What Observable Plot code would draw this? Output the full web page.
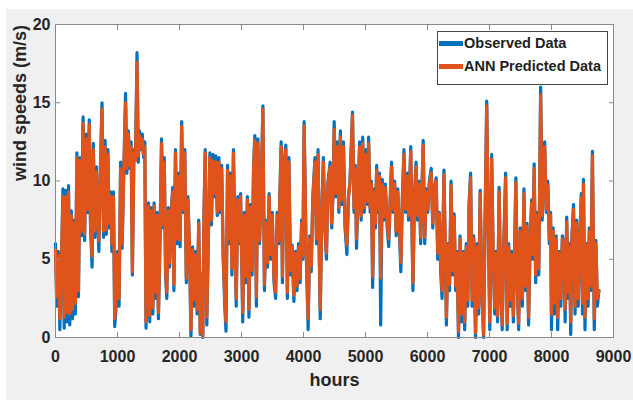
<!DOCTYPE html>
<html><head><meta charset="utf-8">
<script src="https://cdn.jsdelivr.net/npm/d3@7"></script>
<script src="https://cdn.jsdelivr.net/npm/@observablehq/plot@0.6"></script>
<style>
html,body{margin:0;padding:0;background:#fff;}
#wrap{position:relative;width:633px;height:400px;overflow:hidden;font-family:"Liberation Sans",Arial,sans-serif;}
#bg{position:absolute;left:6px;top:9px;right:0;bottom:0;background:#f0f0f0;}
#chart{position:absolute;left:0;top:0;}
#legend{position:absolute;left:437px;top:31px;width:171px;height:54px;background:#fff;border:1px solid #444;box-sizing:border-box;}
.row{position:absolute;left:1px;display:flex;align-items:center;font-weight:bold;font-size:14.5px;color:#222;white-space:nowrap;}
.sw{width:24px;height:5px;margin-right:1px;}
</style></head>
<body>
<div id="wrap"><div id="bg"></div><div id="chart"></div>
<div id="legend">
 <div class="row" style="top:3px"><span class="sw" style="background:#0072BD"></span><span>Observed Data</span></div>
 <div class="row" style="top:26px"><span class="sw" style="background:#E0531A"></span><span>ANN Predicted Data</span></div>
</div></div>
<script>
const xTicks = [0,1000,2000,3000,4000,5000,6000,7000,8000,9000];
const yTicks = [0,5,10,15,20];
const xLabel = "hours";
const yLabel = "wind speeds (m/s)";
const seriesNames = ["Observed Data","ANN Predicted Data"];

const hours = [
0,20,45,70,95,120,140,165,185,210,230,255,275,300,320,345,370,395,420,445,470,495,
520,545,565,590,610,635,660,680,700,725,750,775,800,820,845,865,890,910,935,955,975,
1000,1025,1050,1075,1100,1130,1150,1175,1200,1220,1240,1265,1290,1315,1335,1355,1375,1400,1420,1440,1460,
1480,1500,1520,1545,1570,1590,1615,1640,1660,1685,1710,1735,1755,1775,1795,1820,1840,1865,1890,1910,1935,1960,1985,
2010,2035,2060,2085,2110,2135,2160,2185,2210,2235,2260,2285,2310,2335,2355,2375,2395,2415,2440,2465,2490,
2515,2540,2560,2585,2610,2635,2655,2680,2705,2730,2750,2775,2800,2825,2845,2870,2890,2915,2940,2960,2985,
3020,3045,3070,3095,3120,3145,3170,3195,3215,3240,3265,3290,3315,3345,3370,3395,3420,3445,3470,3495,
3525,3550,3575,3600,3640,3660,3685,3715,3740,3765,3790,3815,3845,3870,3895,3920,3945,3970,3990,
4010,4040,4075,4100,4125,4150,4185,4210,4235,4255,4270,4295,4320,4345,4370,4395,4430,4455,
4480,4495,4520,4545,4570,4595,4620,4645,4670,4700,4725,4750,4790,4815,4835,4855,4880,4905,4930,4955,4980,
5005,5030,5050,5075,5095,5115,5140,5160,5180,5205,5225,5245,5270,5295,5320,5350,5375,5400,5420,5445,5470,5495,
5520,5545,5570,5595,5620,5645,5670,5695,5730,5765,5790,5815,5840,5865,5890,5930,5955,5980,
6005,6030,6060,6085,6110,6140,6165,6190,6215,6235,6265,6285,6305,6330,6355,6380,6405,6430,6455,6475,6500,
6525,6550,6575,6600,6625,6650,6670,6695,6720,6745,6775,6800,6825,6850,6875,6905,6930,6955,6980,7005,
7035,7060,7085,7105,7130,7155,7180,7205,7230,7260,7285,7310,7335,7360,7385,7425,7450,7470,7495,
7530,7555,7580,7605,7630,7655,7680,7700,7720,7745,7770,7795,7825,7850,7870,7890,7915,7940,7965,7985,
8000,8025,8050,8075,8100,8125,8150,8175,8200,8220,8245,8270,8290,8310,8330,8355,8380,8405,8430,8455,8480,
8500,8515,8540,8565,8590,8610,8635,8660,8690,8715,8740,8765];

const observed = [
6.0,2.0,5.5,0.5,4.5,9.5,0.6,9.4,1.0,9.7,0.8,8.1,1.2,7.5,1.5,11.8,2.6,11.5,6.5,14.1,6.2,13.0,
8.0,13.9,7.0,4.5,12.4,6.4,10.9,7.5,5.5,11.0,15.0,6.4,12.6,6.6,12.0,7.0,9.3,5.5,9.3,0.7,1.8,
5.5,2.0,11.2,5.7,10.5,15.6,10.5,13.2,10.8,12.5,4.0,12.0,11.5,18.2,11.2,13.2,12.0,13.0,11.5,12.5,0.6,
5.0,8.6,1.0,8.3,1.5,8.6,2.5,8.0,1.2,6.0,12.7,7.0,11.5,4.0,2.5,8.3,4.5,7.8,9.6,3.0,12.0,6.0,10.5,
5.8,13.8,8.0,12.0,3.5,9.0,5.8,0.1,5.8,2.0,5.5,1.5,7.5,0.2,4.0,0.0,8.0,12.0,0.8,6.0,11.8,
7.2,11.7,9.0,11.6,7.8,11.5,8.0,11.0,5.0,2.0,0.4,11.0,6.0,10.5,4.0,12.0,7.0,2.0,9.0,6.0,9.2,
1.0,8.0,3.5,9.0,1.3,8.5,4.0,11.0,12.9,2.0,12.7,6.0,9.0,14.8,3.0,7.5,4.5,9.2,5.0,8.0,
3.5,2.5,8.0,6.0,12.5,3.5,11.0,12.3,2.5,11.5,4.0,5.9,2.3,5.5,3.0,6.0,3.5,7.5,5.0,
13.8,6.0,0.5,6.5,4.2,9.0,11.5,6.0,12.0,5.0,1.2,8.0,11.5,7.0,5.0,10.0,11.2,7.0,
9.5,13.8,9.0,12.5,8.0,13.2,8.5,12.5,7.0,5.3,9.0,10.0,14.4,8.0,11.0,5.7,9.0,12.5,7.5,12.8,8.0,
12.0,8.5,12.8,8.0,10.0,3.2,9.5,7.0,11.0,8.0,10.5,0.8,10.1,7.5,9.8,7.0,5.8,9.0,11.2,8.0,10.0,6.5,
9.5,7.0,4.2,9.0,12.0,8.0,10.5,7.5,12.2,3.0,9.0,11.2,7.5,10.0,6.0,12.6,6.0,9.5,
8.0,10.0,10.8,7.0,9.5,10.2,5.0,8.0,4.0,2.5,10.7,6.0,0.8,6.0,3.0,10.0,4.0,7.9,3.0,5.5,0.0,
6.5,1.0,5.5,0.5,6.0,2.0,8.5,10.5,2.0,6.5,0.0,6.0,1.5,9.4,3.0,0.0,8.0,15.1,7.0,0.5,
11.7,5.0,1.5,5.5,1.0,9.6,3.0,0.5,6.0,10.5,0.5,6.0,2.0,5.5,1.0,10.2,3.0,0.5,7.0,
2.0,9.5,3.0,7.3,0.8,6.0,8.8,5.0,11.1,3.5,8.0,4.0,16.0,7.5,11.0,12.5,8.0,10.0,6.0,8.0,
0.5,7.0,1.5,6.5,0.5,5.5,2.0,6.5,6.0,1.0,7.7,2.5,6.0,0.2,6.5,8.5,1.5,7.5,2.0,6.0,9.2,
1.5,10.1,0.5,6.0,2.0,7.0,3.0,11.9,0.5,6.2,2.0,3.0];

const predicted = [
5.6,2.6,5.2,1.2,4.8,9.0,1.3,9.0,1.6,9.3,1.5,7.8,1.8,7.3,2.2,11.5,3.0,11.3,6.8,13.7,6.6,12.7,
8.2,13.6,7.3,5.2,12.0,6.8,10.6,7.7,6.2,10.8,14.6,6.8,12.2,6.9,11.7,7.3,9.0,6.0,9.0,1.2,2.3,
5.3,2.5,10.8,6.0,10.3,15.0,10.8,13.0,11.0,12.2,4.2,11.8,11.3,17.6,11.6,12.9,12.1,12.7,11.7,12.2,1.0,
5.2,8.4,1.4,8.1,1.9,8.4,2.9,7.8,1.6,6.2,12.4,7.2,11.2,4.3,2.9,8.1,4.8,7.7,9.3,3.4,11.8,6.3,10.3,
6.2,13.5,8.2,11.8,3.8,8.8,6.0,0.5,5.6,2.4,5.3,1.8,7.3,0.3,4.1,0.1,7.8,11.8,1.3,6.2,11.5,
7.5,11.3,9.2,11.2,8.0,11.2,8.2,10.8,5.3,2.4,1.0,10.7,6.3,10.3,4.4,11.8,7.2,2.5,8.8,6.2,9.0,
1.6,7.8,3.9,8.8,1.8,8.3,4.3,10.8,12.6,2.6,12.4,6.2,8.9,14.6,3.4,7.3,4.8,9.0,5.3,7.8,
3.8,2.9,7.8,6.2,12.2,3.9,10.8,12.0,2.9,11.2,4.3,5.8,2.7,5.4,3.3,5.8,3.8,7.3,5.2,
13.5,6.2,1.2,6.3,4.6,8.8,11.2,6.3,11.7,5.3,1.8,7.8,11.2,7.2,5.4,9.8,10.9,7.3,
9.6,13.3,9.2,12.2,8.3,12.8,8.8,12.2,7.3,5.9,8.9,9.9,14.2,8.3,10.8,6.3,9.0,12.2,7.8,12.4,8.3,
11.7,8.7,12.4,8.3,9.8,3.9,9.3,7.3,10.7,8.2,10.3,3.8,9.8,7.7,9.6,7.3,6.3,8.9,10.9,8.2,9.8,6.8,
9.3,7.3,4.8,8.8,11.7,8.2,10.3,7.8,11.9,3.5,8.9,10.9,7.8,9.8,6.4,12.3,6.4,9.3,
8.2,9.8,10.5,7.3,9.3,10.0,5.4,7.9,4.4,3.0,10.4,6.2,1.3,5.9,3.4,9.7,4.3,7.7,3.3,5.4,0.4,
6.3,1.5,5.4,1.0,5.8,2.4,8.3,10.2,2.4,6.3,0.3,5.8,1.9,9.2,3.3,0.2,7.8,14.8,7.2,1.0,
11.4,5.2,1.9,5.4,1.4,9.3,3.3,0.8,5.8,10.2,0.9,5.8,2.4,5.3,1.4,9.9,3.3,0.9,6.8,
2.5,9.2,3.3,7.1,1.3,5.9,8.6,5.3,10.8,4.0,7.8,4.4,15.5,7.8,10.8,12.2,8.2,9.7,6.3,7.8,
1.5,6.8,2.2,6.3,1.3,5.4,2.5,6.3,5.9,1.8,7.4,2.9,5.8,1.0,6.3,8.2,2.0,7.3,2.5,5.9,8.9,
2.2,9.8,1.3,5.9,2.5,6.8,3.3,11.6,1.2,6.0,2.5,3.0];

const data = hours.map((h, i) => ({hour: h, obs: observed[i], pred: predicted[i]}));
const axisGray = "#8a8a8a";
const textCol = "#262626";
const fontB = {fontSize: 16, fontWeight: "bold", fill: textCol};

const chart = Plot.plot({
  width: 633, height: 400,
  marginLeft: 55, marginRight: 20, marginTop: 24, marginBottom: 63,
  style: {background: "transparent", fontFamily: "Liberation Sans, Arial, sans-serif", color: textCol},
  x: {domain: [0, 9000]},
  y: {domain: [0, 20]},
  marks: [
    Plot.frame({fill: "#fff", stroke: null}),
    Plot.line(data, {x: "hour", y: "obs", stroke: "#0072BD", strokeWidth: 3.2}),
    Plot.line(data, {x: "hour", y: "pred", stroke: "#E0531A", strokeWidth: 3.2}),
    Plot.frame({stroke: axisGray}),
    Plot.axisX({anchor: "bottom", ticks: xTicks, tickSize: -5, stroke: axisGray, tickFormat: () => "", label: null}),
    Plot.axisX({anchor: "top", ticks: xTicks, tickSize: -5, stroke: axisGray, tickFormat: () => "", label: null}),
    Plot.axisY({anchor: "left", ticks: yTicks, tickSize: -5, stroke: axisGray, tickFormat: () => "", label: null}),
    Plot.axisY({anchor: "right", ticks: yTicks, tickSize: -5, stroke: axisGray, tickFormat: () => "", label: null}),
    Plot.axisX({anchor: "bottom", ticks: xTicks, tickSize: 0, tickPadding: 13, tickFormat: d3.format("d"), label: null, ...fontB}),
    Plot.axisY({anchor: "left", ticks: yTicks, tickSize: 0, tickPadding: 5, tickFormat: d3.format("d"), label: null, ...fontB}),
    Plot.text([xLabel], {frameAnchor: "bottom", dy: 48, fontSize: 18, fontWeight: "bold", fill: textCol, ariaLabel: "xlab"}),
    Plot.text([yLabel], {frameAnchor: "left", dx: -35, rotate: -90, fontSize: 18, fontWeight: "bold", fill: textCol, ariaLabel: "ylab"})
  ]
});
document.getElementById("chart").appendChild(chart);
const yl = chart.querySelector('g[aria-label="ylab"] text');
if (yl) { yl.setAttribute("textLength", 205); yl.setAttribute("lengthAdjust", "spacingAndGlyphs"); }
</script>
</body></html>
